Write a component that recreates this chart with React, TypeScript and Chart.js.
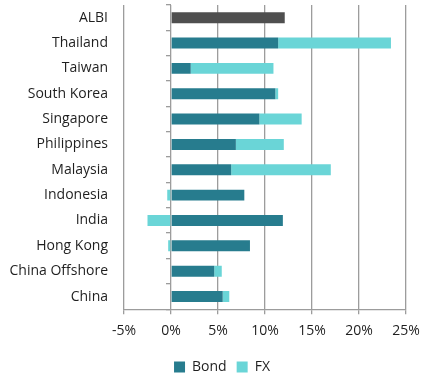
import React, { useEffect, useRef } from 'react';
import { Chart, registerables } from 'chart.js';

Chart.register(...registerables);

const categories = ['ALBI', 'Thailand', 'Taiwan', 'South Korea', 'Singapore', 'Philippines', 'Malaysia', 'Indonesia', 'India', 'Hong Kong', 'China Offshore', 'China'];
const bondValues = [12.1, 11.4, 2.1, 11.1, 9.4, 6.9, 6.4, 7.8, 11.9, 8.4, 4.6, 5.5];
const fxValues = [0, 12.0, 8.8, 0.3, 4.5, 5.1, 10.6, -0.4, -2.5, -0.3, 0.8, 0.7];
const seriesNames = ['Bond', 'FX'];
const xMin = -5;
const xMax = 25;
const xStep = 5;

const BOND = '#277c8e';
const FX = '#6ad5d7';
const ALBI = '#4f4f4f';
const GRID = '#9c9c9c';
const TEXT = '#1f1f1f';
const FONT = { family: '"Open Sans", sans-serif', size: 14 };

const legendShift = {
  id: 'legendShift',
  afterLayout(chart: any) {
    const lg = chart.legend;
    if (lg) {
      lg.left += 17;
      lg.right += 17;
      lg.top += 3;
      lg.bottom += 3;
    }
  },
};

export default function App() {
  const ref = useRef<HTMLCanvasElement | null>(null);
  useEffect(() => {
    if (!ref.current) return;
    const chart = new Chart(ref.current, {
      type: 'bar',
      data: {
        labels: categories,
        datasets: [
          {
            label: seriesNames[0],
            data: bondValues,
            backgroundColor: categories.map((c) => (c === 'ALBI' ? ALBI : BOND)),
            yAxisID: 'y',
            categoryPercentage: 1,
            barPercentage: 0.43,
          },
          {
            label: seriesNames[1],
            data: fxValues,
            backgroundColor: FX,
            yAxisID: 'y',
            categoryPercentage: 1,
            barPercentage: 0.43,
          },
        ],
      },
      plugins: [legendShift],
      options: {
        indexAxis: 'y',
        responsive: false,
        animation: false,
        layout: { padding: { top: 5, right: 18, left: 4, bottom: -2 } },
        plugins: {
          tooltip: { enabled: false },
          legend: {
            position: 'bottom',
            labels: {
              boxWidth: 11,
              boxHeight: 11,
              color: TEXT,
              font: FONT,
              padding: 10,
              generateLabels: (ch: any) =>
                ch.data.datasets.map((ds: any, i: number) => ({
                  text: ds.label,
                  fillStyle: i === 0 ? BOND : FX,
                  strokeStyle: 'rgba(0,0,0,0)',
                  lineWidth: 0,
                  datasetIndex: i,
                  fontColor: TEXT,
                })),
            },
          },
        },
        scales: {
          x: {
            type: 'linear',
            stacked: true,
            min: xMin,
            max: xMax,
            ticks: {
              stepSize: xStep,
              callback: (v: any) => `${v}%`,
              color: TEXT,
              font: FONT,
              padding: 8,
            },
            grid: { color: GRID, tickLength: 5, lineWidth: 1.3 },
            border: { color: GRID, width: 1.3 },
            afterFit: (s: any) => {
              s.paddingRight = 0;
              s.paddingLeft = 0;
            },
          },
          y: {
            type: 'category',
            stacked: true,
            grid: { display: false, drawTicks: false },
            border: { display: false },
            ticks: { color: TEXT, font: FONT, padding: 16 },
            afterFit: (s: any) => {
              s.width = 120;
              s.paddingTop = 0;
              s.paddingBottom = 0;
            },
          },
          y2: {
            type: 'category',
            position: { x: 0 } as any,
            offset: true,
            grid: { drawOnChartArea: false, offset: true, tickLength: 5, color: GRID, lineWidth: 1.3 },
            border: { display: false },
            ticks: { display: false },
          },
        },
      } as any,
    });
    return () => chart.destroy();
  }, []);
  return (
    <div style={{ position: 'fixed', left: 0, top: 0, width: 424, height: 379, background: '#fff' }}>
      <canvas ref={ref} width={424} height={379} />
    </div>
  );
}
